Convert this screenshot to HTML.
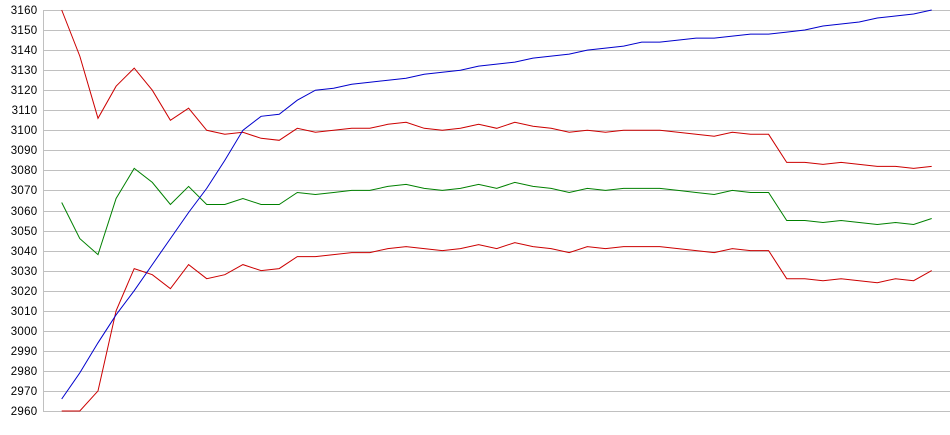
<!DOCTYPE html>
<html><head><meta charset="utf-8"><style>html,body{margin:0;padding:0;background:#fff}svg{display:block}</style></head>
<body>
<svg id="c" width="950" height="435" xmlns="http://www.w3.org/2000/svg" font-family="Liberation Sans, sans-serif" font-size="11.5"></svg>
<script>
const s=document.getElementById('c');let h='';
const Y=v=>10+(3160-v)*2.005;
for(let v=2960;v<=3160;v+=10){const y=Math.round(Y(v))+0.5;h+=`<line x1="43" y1="${y}" x2="950" y2="${y}" stroke="#c0c0c0"/>`;h+=`<text x="37.5" y="${y+3.5}" text-anchor="end" fill="#000" letter-spacing="0.3">${v}</text>`;}
h+=`<line x1="43.5" y1="10" x2="43.5" y2="411" stroke="#c0c0c0"/>`;
const X=i=>61.7+i*18.125;
const d={
"#cc0000":[3160,3137,3106,3122,3131,3120,3105,3111,3100,3098,3099,3096,3095,3101,3099,3100,3101,3101,3103,3104,3101,3100,3101,3103,3101,3104,3102,3101,3099,3100,3099,3100,3100,3100,3099,3098,3097,3099,3098,3098,3084,3084,3083,3084,3083,3082,3082,3081,3082],
"#008000":[3064,3046,3038,3066,3081,3074,3063,3072,3063,3063,3066,3063,3063,3069,3068,3069,3070,3070,3072,3073,3071,3070,3071,3073,3071,3074,3072,3071,3069,3071,3070,3071,3071,3071,3070,3069,3068,3070,3069,3069,3055,3055,3054,3055,3054,3053,3054,3053,3056],
"#cc0001":[2960,2960,2970,3010,3031,3028,3021,3033,3026,3028,3033,3030,3031,3037,3037,3038,3039,3039,3041,3042,3041,3040,3041,3043,3041,3044,3042,3041,3039,3042,3041,3042,3042,3042,3041,3040,3039,3041,3040,3040,3026,3026,3025,3026,3025,3024,3026,3025,3030],
"#0000cc":[2966,2979,2994,3008,3020,3033,3046,3059,3071,3085,3100,3107,3108,3115,3120,3121,3123,3124,3125,3126,3128,3129,3130,3132,3133,3134,3136,3137,3138,3140,3141,3142,3144,3144,3145,3146,3146,3147,3148,3148,3149,3150,3152,3153,3154,3156,3157,3158,3160]};
for(const c in d){h+=`<polyline fill="none" stroke="${c}" stroke-width="1" points="${d[c].map((v,i)=>X(i).toFixed(1)+','+Y(v).toFixed(1)).join(' ')}"/>`;}
s.innerHTML=h;
</script>
</body></html>
